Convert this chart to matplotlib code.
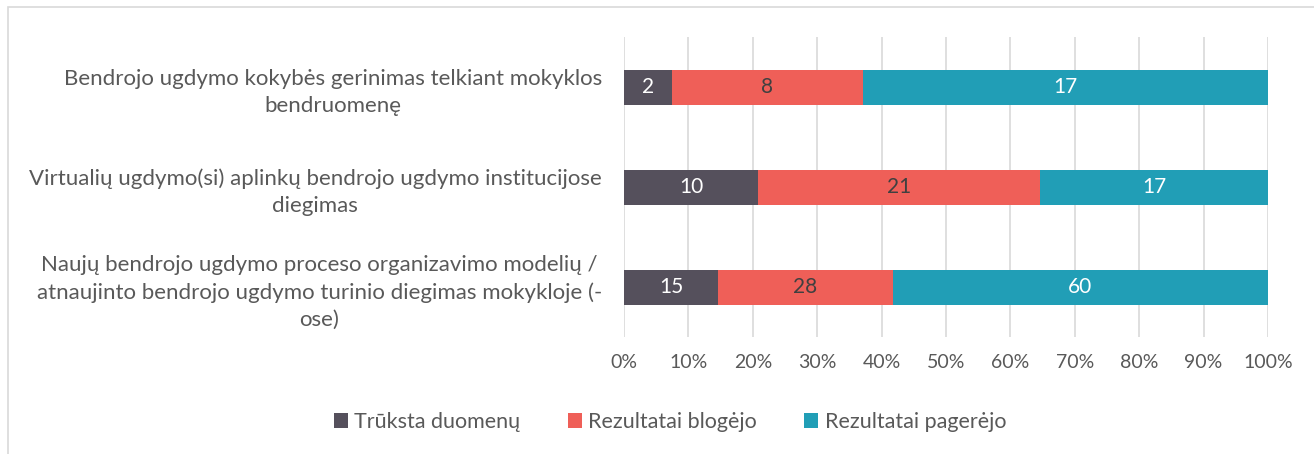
import matplotlib.pyplot as plt
import matplotlib.patches as mpatches
import numpy as np

plt.rcParams['font.family'] = ['Lato', 'DejaVu Sans']

categories = [
    "Bendrojo ugdymo kokybės gerinimas telkiant mokyklos\nbendruomenę",
    "Virtualių ugdymo(si) aplinkų bendrojo ugdymo institucijose\ndiegimas",
    "Naujų bendrojo ugdymo proceso organizavimo modelių /\natnaujinto bendrojo ugdymo turinio diegimas mokykloje (-\nose)",
]
series_names = ["Trūksta duomenų", "Rezultatai blogėjo", "Rezultatai pagerėjo"]
truksta = [2, 10, 15]
blogejo = [8, 21, 28]
pagerejo = [17, 17, 60]

colors = ["#55505c", "#ef5f58", "#219eb6"]
label_colors = ["white", "#404040", "white"]
text_grey = "#595959"

fig = plt.figure(figsize=(13.14, 4.54), dpi=100)
ax = fig.add_axes([624/1314, 1-337/454, 644/1314, 300/454])

# chart frame
fig.patches.append(mpatches.Rectangle((8/1314, -0.1), 1.2, 1 - 7/454 + 0.1,
                                      transform=fig.transFigure, fill=False,
                                      edgecolor="#d9d9d9", linewidth=1.2))

data = np.array([truksta, blogejo, pagerejo], dtype=float)
totals = data.sum(axis=0)
pct = data / totals

y = np.arange(len(categories))
left = np.zeros(len(categories))
for i, name in enumerate(series_names):
    bars = ax.barh(y, pct[i], left=left, height=0.35, color=colors[i],
                   label=name, zorder=3)
    for j, b in enumerate(bars):
        ax.text(left[j] + pct[i][j] / 2, y[j], str(int(data[i][j])),
                ha="center", va="center", color=label_colors[i],
                fontsize=15, zorder=4)
    left += pct[i]

ax.set_ylim(len(categories) - 0.5, -0.5)
ax.set_xlim(0, 1)
ax.set_xticks(np.linspace(0, 1, 11))
ax.set_xticklabels([f"{int(v)}%" for v in np.linspace(0, 100, 11)])
ax.set_yticks(y)
ax.set_yticklabels(categories, ha="right", multialignment="center",
                   fontsize=16, color=text_grey, linespacing=1.45)
ax.tick_params(axis="y", length=0, pad=16)
ax.tick_params(axis="x", length=0, pad=12, labelsize=14, labelcolor=text_grey)
ax.grid(axis="x", color="#d9d9d9", linewidth=1.2, zorder=0)
for s in ax.spines.values():
    s.set_visible(False)

leg = fig.legend(loc="center", bbox_to_anchor=(670/1314, 1-422/454), ncol=3,
                 frameon=False, fontsize=15.5, handlelength=0.65, handleheight=0.65,
                 handletextpad=0.3, columnspacing=2.2, labelcolor=text_grey)

fig.savefig("out.png", dpi=100)
